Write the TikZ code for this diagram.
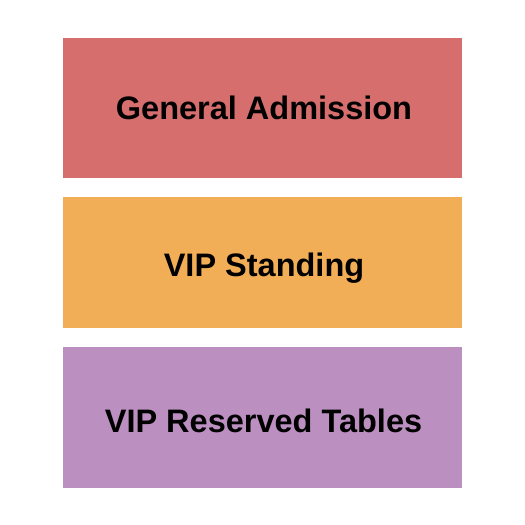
\documentclass[tikz,border=0pt]{standalone}
\usepackage{fontspec}
\setmainfont{Liberation Sans}
\definecolor{gaC}{HTML}{D66E6E}
\definecolor{vsC}{HTML}{F2AE57}
\definecolor{vrC}{HTML}{BC8FC1}
\begin{document}
\begin{tikzpicture}[x=1pt,y=1pt,
  sec/.style={fill=#1,draw=none},
  lbl/.style={font=\bfseries\fontsize{32.5}{38}\selectfont,text=black,inner sep=0,anchor=base}]
\useasboundingbox (0,0) rectangle (525,525);
\fill[white] (0,0) rectangle (525,525);
\path[sec=gaC] (63,487) rectangle (462,347.3);
\path[sec=vsC] (63,328) rectangle (462,197.3);
\path[sec=vrC] (63,178) rectangle (462,37.3);
\node[lbl] (ga) at (264,405) {General Admission};
\node[lbl] (vs) at (264,248.3) {VIP Standing};
\node[lbl] (vr) at (263.5,92.4) {VIP Reserved Tables};
\end{tikzpicture}
\end{document}
